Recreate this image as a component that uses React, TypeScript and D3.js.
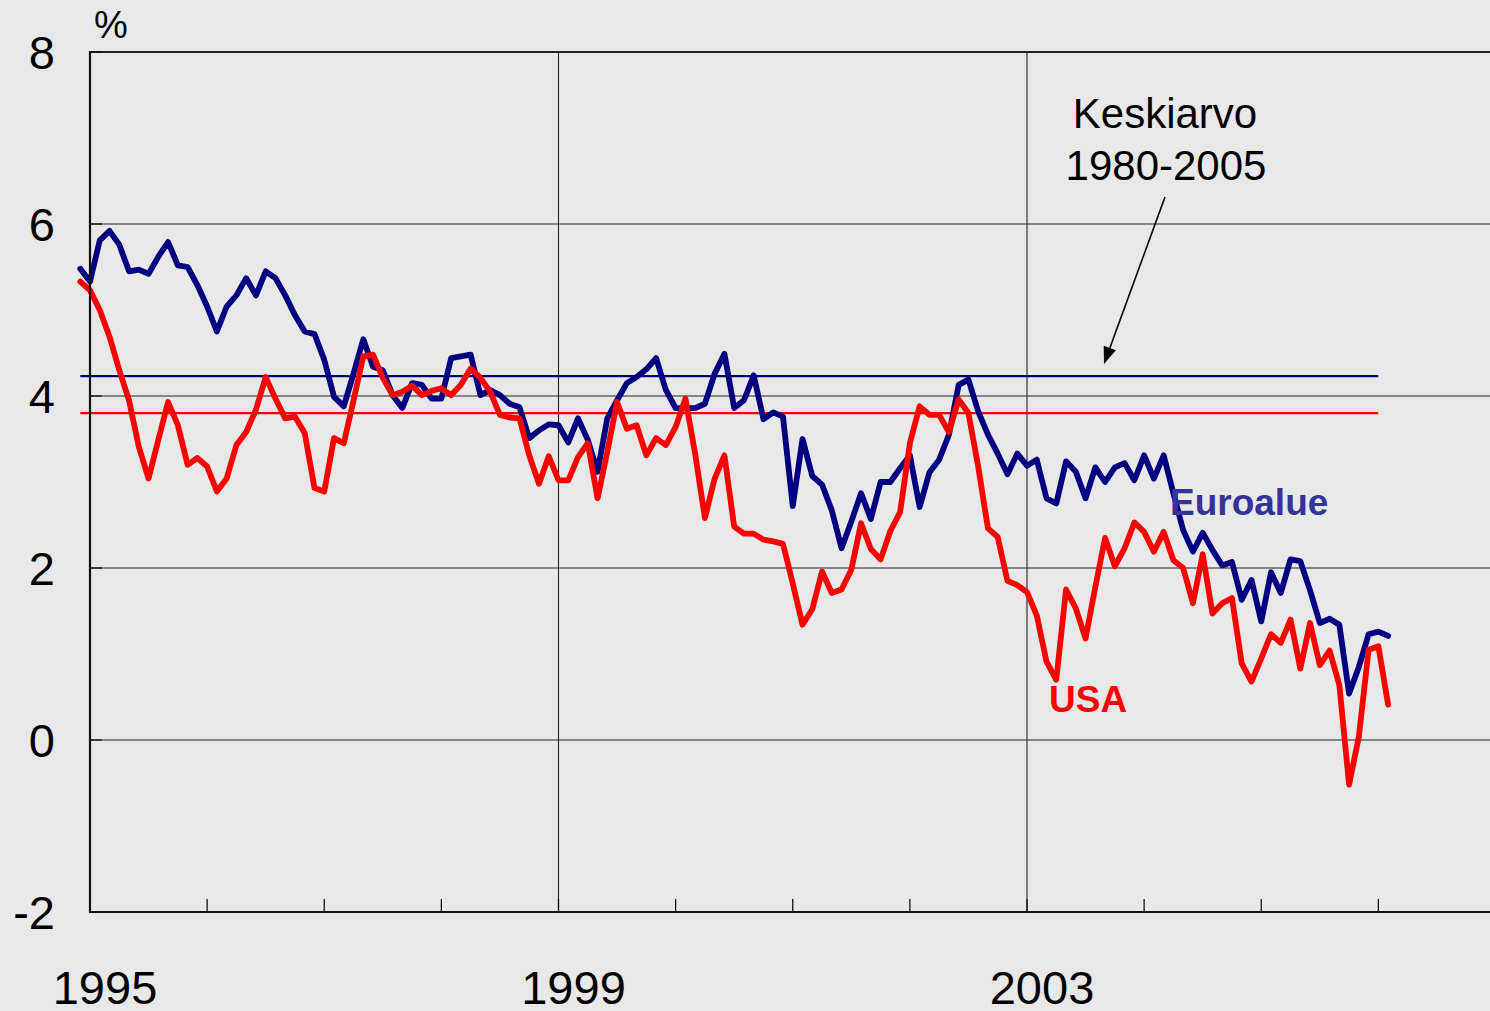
import React from 'react';
import * as d3 from 'd3';

// Monthly values, Dec 1994 .. Feb 2006 (%)
const euroalue: number[] = [
  5.48, 5.33, 5.81, 5.92, 5.76, 5.45, 5.47, 5.42, 5.62, 5.79, 5.52, 5.50,
  5.29, 5.04, 4.75, 5.04, 5.17, 5.37, 5.17, 5.45, 5.37, 5.17, 4.94, 4.75,
  4.72, 4.42, 3.99, 3.88, 4.26, 4.66, 4.34, 4.30, 4.01, 3.86, 4.15, 4.13,
  3.97, 3.97, 4.44, 4.46, 4.48, 4.01, 4.07, 4.01, 3.91, 3.87, 3.51, 3.60,
  3.67, 3.66, 3.46, 3.74, 3.49, 3.12, 3.74, 3.95, 4.15, 4.22, 4.31, 4.44,
  4.07, 3.86, 3.86, 3.86, 3.91, 4.26, 4.49, 3.86, 3.95, 4.24, 3.73, 3.81,
  3.76, 2.72, 3.50, 3.07, 2.97, 2.67, 2.23, 2.54, 2.87, 2.57, 3.00, 3.00,
  3.16, 3.31, 2.71, 3.11, 3.26, 3.55, 4.13, 4.19, 3.82, 3.55, 3.33, 3.09,
  3.33, 3.19, 3.26, 2.81, 2.75, 3.24, 3.12, 2.81, 3.17, 3.00, 3.17, 3.22,
  3.02, 3.31, 3.04, 3.31, 2.87, 2.44, 2.19, 2.41, 2.21, 2.03, 2.07, 1.63,
  1.86, 1.38, 1.95, 1.71, 2.10, 2.08, 1.74, 1.36, 1.41, 1.34, 0.54, 0.85,
  1.23, 1.26, 1.21,
];

const usa: number[] = [
  5.33, 5.23, 5.00, 4.69, 4.30, 3.95, 3.41, 3.04, 3.49, 3.93, 3.66, 3.20,
  3.28, 3.18, 2.89, 3.04, 3.43, 3.58, 3.84, 4.22, 3.97, 3.74, 3.76, 3.57,
  2.93, 2.89, 3.51, 3.45, 3.95, 4.46, 4.48, 4.21, 4.01, 4.05, 4.12, 4.01,
  4.06, 4.09, 4.01, 4.13, 4.32, 4.21, 4.05, 3.78, 3.75, 3.74, 3.31, 2.98,
  3.30, 3.02, 3.02, 3.29, 3.45, 2.81, 3.35, 3.93, 3.62, 3.66, 3.31, 3.51,
  3.43, 3.64, 3.97, 3.33, 2.58, 3.04, 3.31, 2.48, 2.40, 2.40, 2.33, 2.31,
  2.28, 1.82, 1.34, 1.52, 1.96, 1.71, 1.75, 1.98, 2.52, 2.22, 2.10, 2.43,
  2.65, 3.45, 3.88, 3.78, 3.78, 3.58, 3.96, 3.80, 3.18, 2.46, 2.36, 1.85,
  1.80, 1.72, 1.45, 0.91, 0.70, 1.75, 1.53, 1.18, 1.78, 2.35, 2.02, 2.23,
  2.53, 2.42, 2.19, 2.42, 2.09, 2.00, 1.59, 2.16, 1.47, 1.59, 1.65, 0.89,
  0.68, 0.95, 1.23, 1.13, 1.40, 0.83, 1.36, 0.87, 1.04, 0.64, -0.52, 0.04,
  1.05, 1.09, 0.41,
];

const startYear = 1994 + 11 / 12; // first observation: Dec 1994
const euroAvg = 4.23;
const usaAvg = 3.8;
const avgStart = startYear;
const avgEnd = 2006;

const yTicks = [-2, 0, 2, 4, 6, 8];
const xLabelYears = [1995, 1999, 2003];
const tickYears = [1996, 1997, 1998, 1999, 2000, 2001, 2002, 2003, 2004, 2005, 2006, 2007];
const gridYears = [1999, 2003];

const FONT = '"Liberation Sans", Arial, Helvetica, sans-serif';

export default function App() {
  const W = 1490;
  const H = 1011;
  const left = 90;
  const top = 52;
  const bottom = 912;
  const x = d3.scaleLinear().domain([1995, 1999]).range([90, 558.5]);
  const y = d3.scaleLinear().domain([-2, 8]).range([bottom, top]);
  const dateOf = (i: number) => startYear + i / 12;
  const line = d3
    .line<number>()
    .x((_, i) => x(dateOf(i)))
    .y((d) => y(d));

  const arrowFrom = [1165, 197];
  const arrowTo = [1104, 364];
  const ang = Math.atan2(arrowTo[1] - arrowFrom[1], arrowTo[0] - arrowFrom[0]);
  const hl = 17;
  const hw = 6.5;
  const bx = arrowTo[0] - hl * Math.cos(ang);
  const by = arrowTo[1] - hl * Math.sin(ang);
  const head = [
    [arrowTo[0], arrowTo[1]],
    [bx + hw * Math.sin(ang), by - hw * Math.cos(ang)],
    [bx - hw * Math.sin(ang), by + hw * Math.cos(ang)],
  ];

  return (
    <svg
      width={W}
      height={H}
      style={{ position: 'absolute', left: 0, top: 0, display: 'block' }}
      fontFamily={FONT}
    >
      <rect x={0} y={0} width={W} height={H} fill="#E8E8E8" />

      {/* horizontal gridlines */}
      {yTicks.map((t) => (
        <line
          key={'g' + t}
          x1={left}
          x2={W}
          y1={y(t)}
          y2={y(t)}
          stroke="#222"
          strokeWidth={t === 8 || t === -2 ? 2.2 : 1.1}
        />
      ))}
      {/* vertical gridlines */}
      {gridYears.map((g) => (
        <line key={'v' + g} x1={x(g)} x2={x(g)} y1={top} y2={bottom} stroke="#222" strokeWidth={1.1} />
      ))}
      {/* y ticks inward */}
      {yTicks.map((t) => (
        <line key={'yt' + t} x1={left} x2={left + 12} y1={y(t)} y2={y(t)} stroke="#111" strokeWidth={1.3} />
      ))}
      {/* x ticks */}
      {tickYears.map((t) => (
        <line key={'xt' + t} x1={x(t)} x2={x(t)} y1={bottom} y2={bottom - 13} stroke="#111" strokeWidth={1.3} />
      ))}

      {/* averages */}
      <line x1={x(avgStart)} x2={x(avgEnd)} y1={y(euroAvg)} y2={y(euroAvg)} stroke="#000080" strokeWidth={2.2} />
      <line x1={x(avgStart)} x2={x(avgEnd)} y1={y(usaAvg)} y2={y(usaAvg)} stroke="#FF0000" strokeWidth={2.2} />

      {/* data lines */}
      <path
        d={line(euroalue) || ''}
        fill="none"
        stroke="#000080"
        strokeWidth={5.8}
        strokeLinejoin="round"
        strokeLinecap="round"
      />
      <path
        d={line(usa) || ''}
        fill="none"
        stroke="#FF0000"
        strokeWidth={5.8}
        strokeLinejoin="round"
        strokeLinecap="round"
      />

      {/* axes */}
      <line x1={left} x2={left} y1={top - 1} y2={bottom + 1} stroke="#111" strokeWidth={2.2} />
      <line x1={left} x2={W} y1={bottom} y2={bottom} stroke="#111" strokeWidth={2.2} />

      {/* y labels */}
      {yTicks.map((t) => (
        <text key={'yl' + t} x={55} y={y(t) + 17} fontSize={47} textAnchor="end" fill="#000">
          {t}
        </text>
      ))}
      <text x={94} y={38} fontSize={38} fill="#000">
        %
      </text>

      {/* x labels */}
      {xLabelYears.map((yr) => (
        <text key={'xl' + yr} x={x(yr) + 15} y={1004} fontSize={47} textAnchor="middle" fill="#000">
          {yr}
        </text>
      ))}

      {/* annotation */}
      <text x={1165} y={128} fontSize={42} textAnchor="middle" fill="#000">
        Keskiarvo
      </text>
      <text x={1166} y={180} fontSize={42} textAnchor="middle" fill="#000">
        1980-2005
      </text>
      <line x1={arrowFrom[0]} y1={arrowFrom[1]} x2={bx} y2={by} stroke="#000" strokeWidth={1.6} />
      <polygon points={head.map((p) => p.join(',')).join(' ')} fill="#000" />

      {/* series labels */}
      <text x={1170} y={515} fontSize={37} fontWeight="bold" fill="#333399">
        Euroalue
      </text>
      <text x={1049} y={712} fontSize={37} fontWeight="bold" fill="#FF0000">
        USA
      </text>
    </svg>
  );
}
